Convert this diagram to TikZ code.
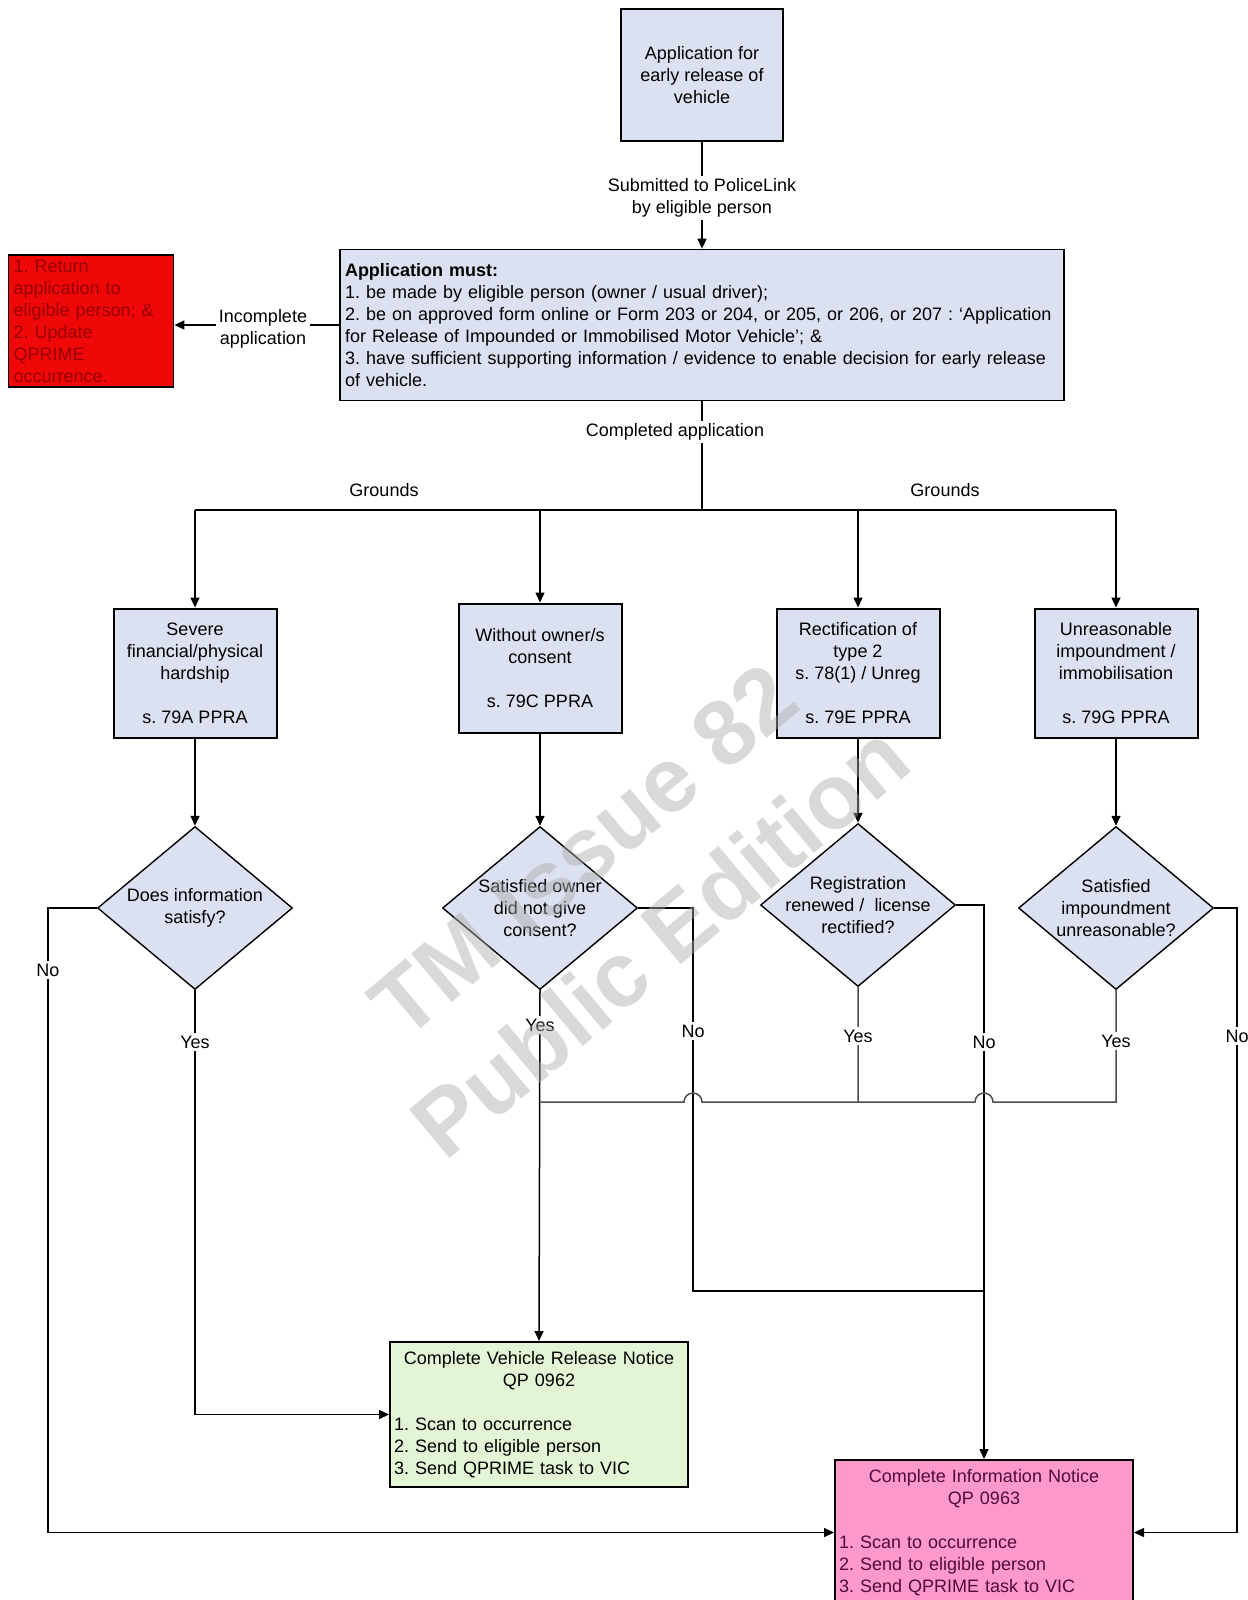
\documentclass[tikz,border=0pt]{standalone}
\usepackage{fontspec}
\setmainfont{Liberation Sans}
\usetikzlibrary{arrows.meta,shapes.geometric,positioning}
\definecolor{boxblue}{RGB}{220,225,241}
\definecolor{rejred}{RGB}{240,8,8}
\definecolor{rejtext}{RGB}{150,0,0}
\definecolor{relgreen}{RGB}{226,246,214}
\definecolor{infopink}{RGB}{255,153,204}
\definecolor{infotext}{RGB}{80,10,60}
\tikzset{
  procbox/.style={draw,line width=1pt,fill=boxblue,minimum width=81.5pt,minimum height=64.5pt,align=center,inner sep=1pt},
  decide/.style={diamond,draw,line width=0.7pt,fill=boxblue,minimum width=97.5pt,minimum height=81.5pt,inner sep=-5pt,align=center},
  notice/.style={draw,line width=1pt,text width=145pt,inner sep=2pt,minimum height=72.5pt,align=left},
  lbl/.style={fill=white,inner sep=1.5pt,align=center},
  conn/.style={line width=0.75pt},
  arr/.style={conn,-{Triangle[length=5pt,width=4.5pt]}},
}

\begin{document}
\frenchspacing
\begin{tikzpicture}[x=0.5pt,y=-0.5pt,every node/.style={font=\fontsize{9}{11}\selectfont}]
\fill[white] (0,0) rectangle (1247,1600);
\useasboundingbox (0,0) rectangle (1247,1600);

% top of the flow
\node[procbox,minimum width=81pt,minimum height=65.5pt] (apply) at (702,75) {Application for\\early release of\\vehicle};
\node[draw,line width=0.9pt,fill=boxblue,text width=357pt,inner sep=2.5pt,minimum height=75.5pt,align=left] (must) at (702,325)
   {\textbf{Application must:}\\
    1. be made by eligible person (owner / usual driver);\\
    2. be on approved form online or Form 203 or 204, or 205, or 206, or 207 : `Application\\
    for Release of Impounded or Immobilised Motor Vehicle'; \&\\
    3. have sufficient supporting information / evidence to enable decision for early release\\
    of vehicle.};
\node[draw,line width=0.9pt,fill=rejred,text=rejtext,text width=77.5pt,inner sep=2.5pt,minimum height=65.5pt,align=left] (reject) at (91,321)
   {1. Return\\application to\\eligible person; \&\\2. Update\\QPRIME\\occurrence.};

% grounds
\node[procbox] (hard) at (195,673) {Severe\\financial/physical\\hardship\\[11pt]s. 79A PPRA};
\node[procbox] (owner) at (540,668) {Without owner/s\\consent\\[11pt]s. 79C PPRA};
\node[procbox] (rectif) at (858,673) {Rectification of\\type 2\\s. 78(1) / Unreg\\[11pt]s. 79E PPRA};
\node[procbox] (unreas) at (1116,673) {Unreasonable\\impoundment /\\immobilisation\\[11pt]s. 79G PPRA};

% decisions
\node[decide] (qhard) at (195,908) {Does information\\satisfy?};
\node[decide] (qowner) at (540,908) {Satisfied owner\\did not give\\consent?};
\node[decide] (qrectif) at (858,905) {Registration\\renewed / \ license\\rectified?};
\node[decide] (qunreas) at (1116,908) {Satisfied\\impoundment\\unreasonable?};

% notices
\node[notice,fill=relgreen] (release) at (539,1414.5)
   {\makebox[\linewidth]{Complete Vehicle Release Notice}\\
    \makebox[\linewidth]{QP 0962}\\[11pt]
    1. Scan to occurrence\\2. Send to eligible person\\3. Send QPRIME task to VIC};
\node[notice,fill=infopink,text=infotext] (inform) at (984,1532.5)
   {\makebox[\linewidth]{Complete Information Notice}\\
    \makebox[\linewidth]{QP 0963}\\[11pt]
    1. Scan to occurrence\\2. Send to eligible person\\3. Send QPRIME task to VIC};

\coordinate (busL) at (195,510);
\coordinate (busR) at (1116,510);
\coordinate (noL) at (48,1300);
\coordinate (noR) at (1237,1300);
\coordinate (noB) at (693,1291);
\coordinate (yesbus) at (540,1102);
\coordinate (hopA) at (693,1102);
\coordinate (hopB) at (984,1102);

% connectors
\draw[arr] (apply) -- (must);
\draw[arr] (must.west) -- (must.west -| reject.east);
\draw[conn] (must.south) -- (must.south |- busL);
\draw[conn] (busL) -- (busR);
\foreach \g in {hard,owner,rectif,unreas}
   \draw[arr] (\g.north |- busL) -- (\g.north);
\foreach \g in {hard,owner,rectif,unreas}
   \draw[arr] (\g) -- (q\g);

\draw[arr] (qhard.west) -| (noL) |- (inform.west);
\draw[arr] (qhard.south) |- (release.west);
\draw[arr] (qowner.south) -- (release.north);
\draw[conn] (qowner.east) -| (noB) -- (noB -| inform.north);
\draw[arr] (qrectif.east) -| (inform.north);
\draw[arr] (qunreas.east) -| (noR) |- (inform.east);
\draw[conn,draw=black!70] (qrectif.south) |- ([xshift=4.5pt]hopA) arc[start angle=0,end angle=180,radius=4.5pt] -- (yesbus);
\draw[conn,draw=black!70] (qunreas.south) |- ([xshift=4.5pt]hopB) arc[start angle=0,end angle=180,radius=4.5pt] -- (qrectif.south |- yesbus);

% labels on the lines
\node[lbl] (sent) at (702,198) {Submitted to PoliceLink\\by eligible person};
\node[lbl] (incompl) at (263,329) {Incomplete\\application};
\node[lbl] (done) at (675,432) {Completed application};
\node (grL) at (384,490) {Grounds};
\node (grR) at (945,490) {Grounds};
\node[lbl] (noA) at (48,970) {No};
\node[lbl] (yesA) at (195,1042) {Yes};
\node[lbl] (yesB) at (540,1025) {Yes};
\node[lbl] (noBt) at (693,1031) {No};
\node[lbl] (yesC) at (858,1036) {Yes};
\node[lbl] (noC) at (984,1042) {No};
\node[lbl] (yesD) at (1116,1041) {Yes};
\node[lbl] (noD) at (1237,1036) {No};

% watermark
\node[rotate=40,text=black!33,opacity=0.45,align=center,font=\fontsize{46}{59}\selectfont\bfseries] (wmark) at (622,896) {TM Issue 82\\Public Edition};
\end{tikzpicture}
\end{document}
